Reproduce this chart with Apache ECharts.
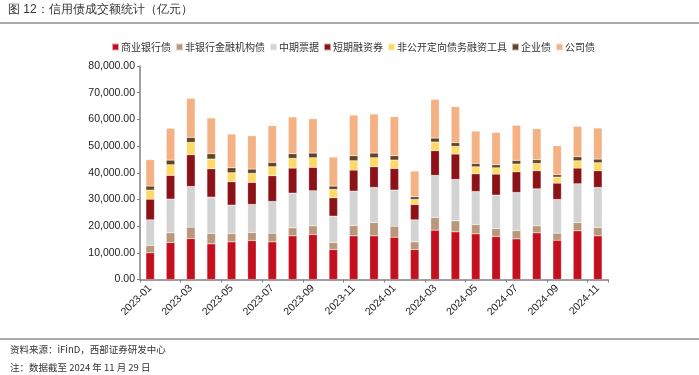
<!DOCTYPE html>
<html><head><meta charset="utf-8">
<script src="https://cdn.jsdelivr.net/npm/echarts@6/dist/echarts.min.js"></script>
<style>html,body{margin:0;padding:0;background:#fff}#c{width:699px;height:375px}</style>
</head><body><div id="c"></div>
<script>
const months = ['2023-01','2023-02','2023-03','2023-04','2023-05','2023-06','2023-07','2023-08','2023-09','2023-10','2023-11','2023-12','2024-01','2024-02','2024-03','2024-04','2024-05','2024-06','2024-07','2024-08','2024-09','2024-10','2024-11'];
const seriesNames = ['商业银行债','非银行金融机构债','中期票据','短期融资券','非公开定向债务融资工具','企业债','公司债'];
const bankBonds = [10000,13860,15360,13360,14110,14610,14110,16360,16860,11230,16360,16360,15850,11230,18490,17860,17110,16110,15230,17490,14730,18240,16360];
const nonBankFin = [2750,3630,4250,3880,3130,3000,3250,3000,3250,2630,3880,5000,4140,2880,4750,4130,3500,3000,3130,2620,2630,3120,3130];
const mtn = [9610,12640,15260,13630,10630,10510,11890,13010,13140,9880,12880,13140,13510,8250,15770,15510,12360,12510,14260,13880,12630,14510,15010];
const cp = [7740,8880,11880,10630,8760,8260,9630,9380,8750,6880,7880,7750,8120,5760,9250,9510,6630,7880,7750,6760,6130,5880,6250];
const ppn = [3400,3990,4630,3630,3380,3380,3380,3630,3630,3130,3500,3380,3130,1880,3250,2870,2630,2350,2880,2750,2250,2750,3000];
const enterprise = [1500,1750,1870,2000,1870,1620,1620,1750,1750,1250,1880,1750,1630,1000,1490,1380,1250,1130,1380,1380,880,1500,1380];
const corporate = [9900,11890,14640,13380,12630,12510,13760,13760,12880,10880,15230,14620,14620,9620,14510,13500,12130,12140,13130,11630,10880,11390,11630];
const yTicks = [0,10000,20000,30000,40000,50000,60000,70000,80000];

const dataArr = [bankBonds, nonBankFin, mtn, cp, ppn, enterprise, corporate];
const colors = ['#C40F1F','#B9977A','#D3D3D3','#8C1217','#FFD966','#634526','#F4B183'];

const chart = echarts.init(document.getElementById('c'), null, {renderer:'canvas'});
const fmt = v => v.toLocaleString('en-US',{minimumFractionDigits:2,maximumFractionDigits:2});
chart.setOption({
  animation:false,
  textStyle:{fontFamily:'"Liberation Sans", Arial, sans-serif'},
  color: colors,
  legend:{
    top:37, left:106, itemWidth:7, itemHeight:7, itemGap:4,
    icon:'rect',
    textStyle:{fontSize:10,color:'#333',fontFamily:'"Noto Sans CJK SC", sans-serif',padding:[0,0,0,-3]},
    data: seriesNames
  },
  grid:{left:140, right:91, top:66, bottom:95.5},
  xAxis:{
    type:'category', data:months,
    axisLine:{lineStyle:{color:'#808080',width:1.5}},
    axisTick:{show:true, interval:1, length:3, lineStyle:{color:'#808080'}},
    axisLabel:{interval:1, rotate:45, fontSize:10.5, color:'#222', margin:7}
  },
  yAxis:{
    type:'value', min:yTicks[0], max:yTicks[yTicks.length-1], interval:10000,
    splitLine:{show:false},
    axisLine:{show:true, lineStyle:{color:'#808080',width:1.5}},
    axisTick:{show:true, length:3, lineStyle:{color:'#808080'}},
    axisLabel:{fontSize:10.5, color:'#222', margin:5, formatter: fmt}
  },
  series: seriesNames.map((n,i)=>({
    name:n, type:'bar', stack:'total', data:dataArr[i], barWidth:8.5,
    itemStyle:{color:colors[i], borderColor:'rgba(255,255,255,0.6)', borderWidth:0.4}
  })),
  graphic:[
    {type:'text', left:8, top:4, style:{text:'图 12：信用债成交额统计（亿元）', fontSize:12, fill:'#333', font:'12px "Noto Sans CJK SC"'}},
    {type:'line', shape:{x1:0,y1:23,x2:699,y2:23}, style:{stroke:'#8c8c8c',lineWidth:1.5}},
    {type:'line', shape:{x1:0,y1:339,x2:699,y2:339}, style:{stroke:'#8c8c8c',lineWidth:1.5}},
    {type:'text', left:10, top:345, style:{text:'资料来源：iFinD，西部证券研发中心', font:'9.5px "Noto Sans CJK SC"', fill:'#333'}},
    {type:'text', left:10, top:363, style:{text:'注：数据截至 2024 年 11 月 29 日', font:'9.5px "Noto Sans CJK SC"', fill:'#333'}}
  ]
});
</script></body></html>
